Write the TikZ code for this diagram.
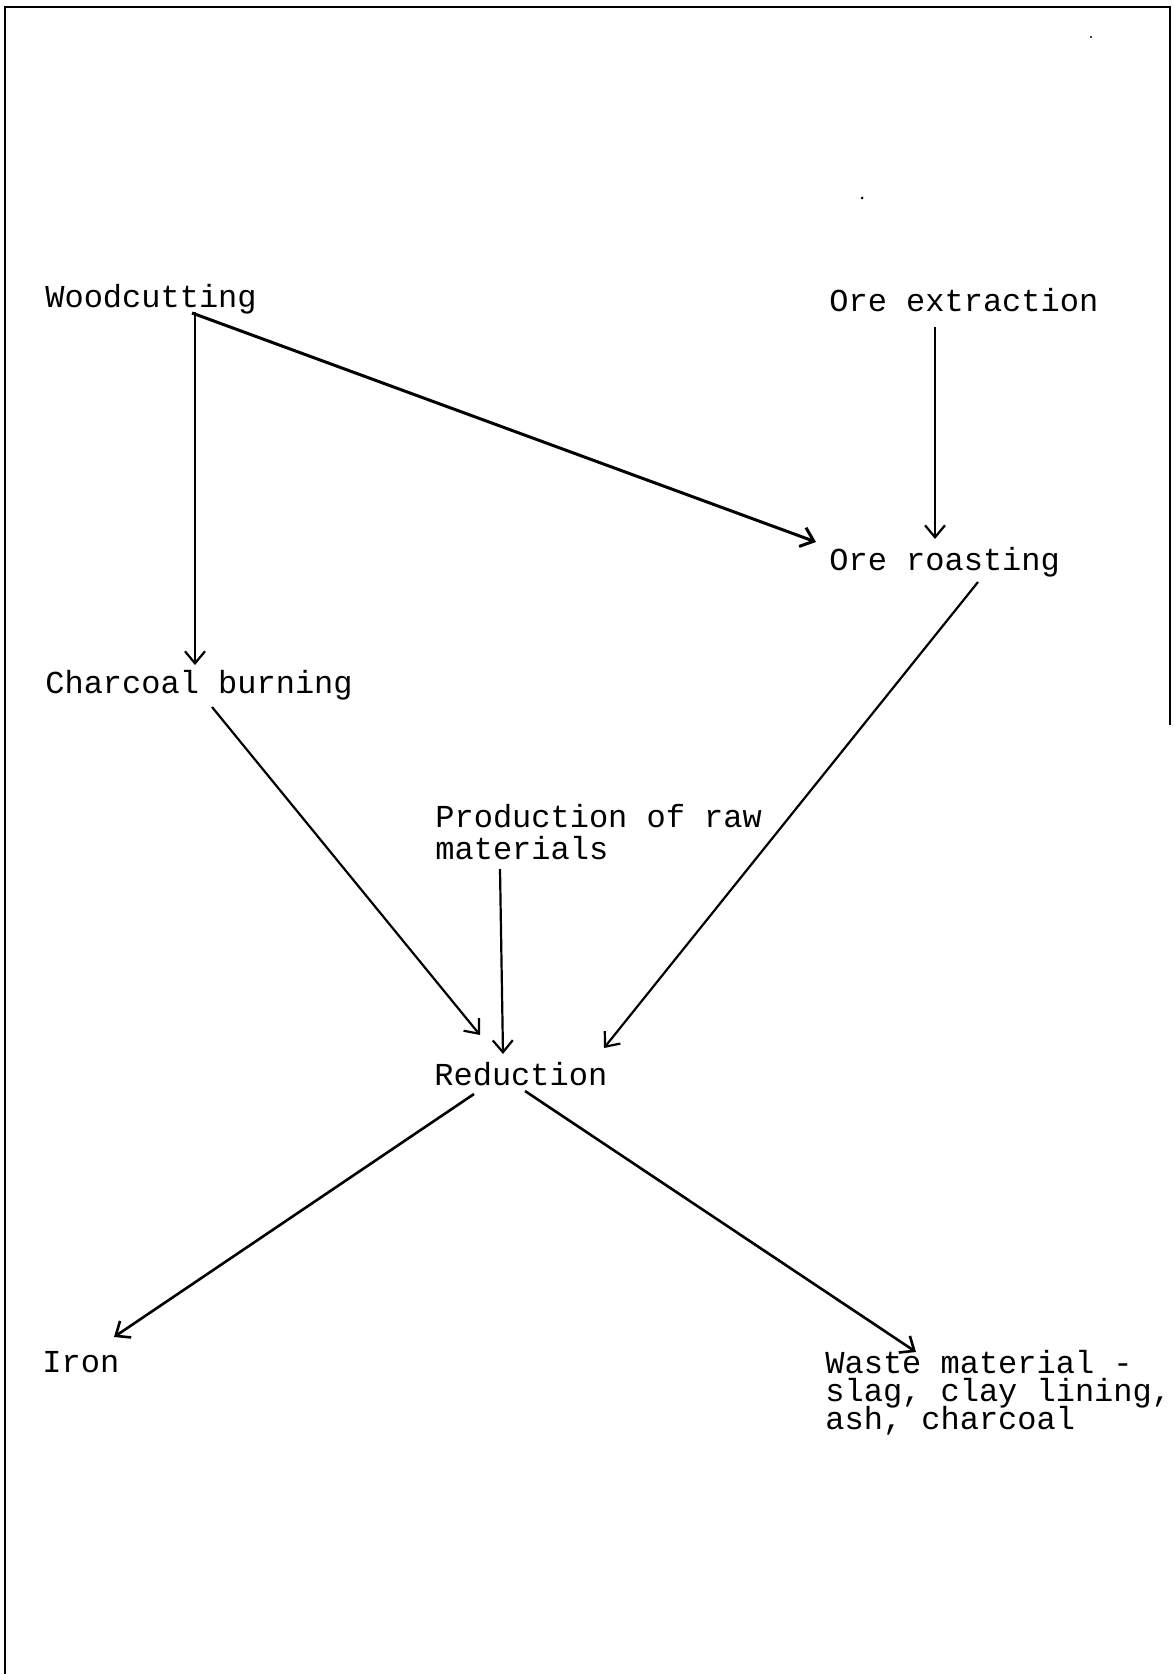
\documentclass[tikz,border=0pt]{standalone}
\usepackage{fontspec}
\setmainfont{Liberation Mono}
\usetikzlibrary{arrows.meta,calc}
\begin{document}
\begin{tikzpicture}[x=0.5pt,y=-0.5pt,
  lbl/.style={anchor=base west,inner sep=0pt,font=\fontsize{16pt}{16pt}\selectfont},
  conn/.style={line width=1.1pt,-{Straight Barb[length=6pt,width=10pt]}},
  frame/.style={line width=1.3pt}]
\useasboundingbox (0,0) rectangle (1173,1674);
% frame
\draw[frame] (5,1674) -- (5,7) -- (1170,7) -- (1170,725);
% scan specks
\fill (1091,37) circle (1.2);
\fill (862,198) circle (1.5);
% nodes
\node[lbl] (wood) at (45,307) {Woodcutting};
\node[lbl] (oreext) at (829,312) {Ore extraction};
\node[lbl] (roast) at (829,570) {Ore roasting};
\node[lbl] (charc) at (45,693) {Charcoal burning};
\node[lbl] (prodA) at (435,827) {Production of raw};
\node[lbl] (prodB) at (435,859) {materials};
\node[lbl] (red) at (434,1085) {Reduction};
\node[lbl] (iron) at (42,1372) {Iron};
\node[lbl] (wasteA) at (825,1373) {Waste material -};
\node[lbl] (wasteB) at (825,1401) {slag, clay lining,};
\node[lbl] (wasteC) at (825,1429) {ash, charcoal};
% connectors
\draw[conn] ($(wood.base west)+(150,5)$) -- ($(charc.base west)+(150,-28)$);
\draw[conn,line width=1.5pt] ($(wood.base west)+(147,6)$) -- ($(roast.base west)+(-13,-28)$);
\draw[conn] ($(oreext.base west)+(106,15)$) -- ($(roast.base west)+(106,-31)$);
\draw[conn] ($(charc.base west)+(167,14)$) -- ($(red.base west)+(46,-50)$);
\draw[conn] ($(prodB.base west)+(65,10)$) -- ($(red.base west)+(69,-31)$);
\draw[conn] ($(roast.base west)+(149,12)$) -- ($(red.base west)+(170,-37)$);
\draw[conn,line width=1.3pt] ($(red.base west)+(40,9)$) -- ($(iron.base west)+(72,-35)$);
\draw[conn,line width=1.3pt] ($(red.base west)+(91,6)$) -- ($(wasteA.base west)+(91,-21)$);
\end{tikzpicture}
\end{document}
